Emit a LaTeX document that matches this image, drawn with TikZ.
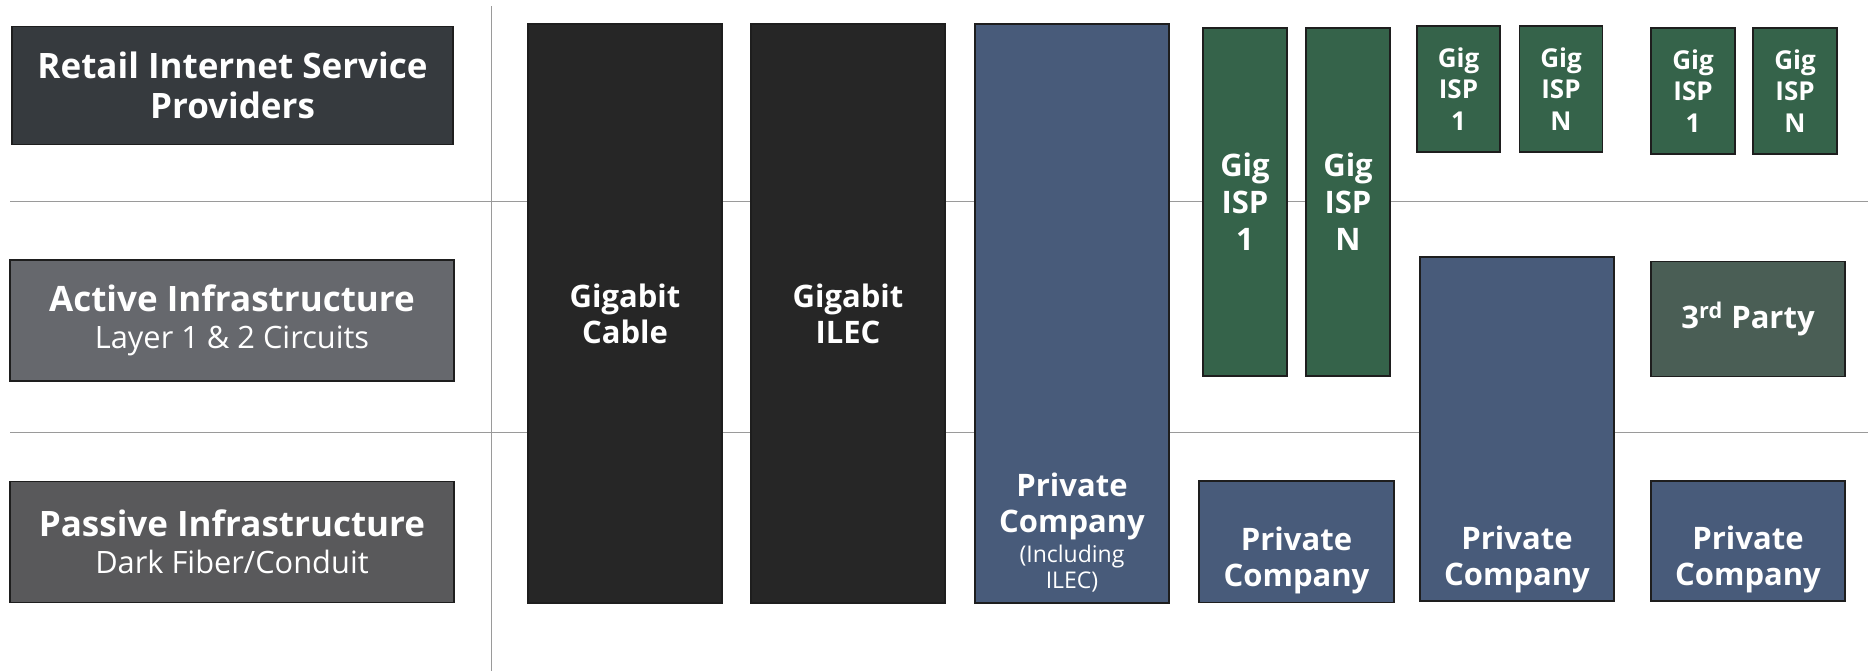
\documentclass[tikz,border=0pt]{standalone}
\usepackage{fontspec}
\setmainfont{Open Sans}
\usepackage{tikz}
\usetikzlibrary{positioning}
\definecolor{retailgray}{HTML}{363A3E}
\definecolor{activegray}{HTML}{66686D}
\definecolor{passivegray}{HTML}{59595B}
\definecolor{gigablack}{HTML}{262626}
\definecolor{privblue}{HTML}{485B7A}
\definecolor{ispgreen}{HTML}{35634A}
\definecolor{thirdgreen}{HTML}{4A5E55}
\definecolor{boxline}{HTML}{1E1E1E}
\definecolor{gridgray}{HTML}{9A9A9A}

\begin{document}
\begin{tikzpicture}[x=.5pt,y=-.5pt,
    box/.style={draw=boxline,line width=.8pt,inner sep=0pt,text=white,align=center},
    head/.style={box,minimum width=222pt,minimum height=60.5pt,font=\fontsize{17.5}{18.7}\selectfont\bfseries},
    col/.style={box,minimum width=97pt,minimum height=289.5pt,font=\fontsize{15.5}{18}\selectfont\bfseries},
    isp/.style={box,fill=ispgreen,minimum width=42pt,font=\fontsize{15.5}{18.5}\selectfont\bfseries},
    ispsmall/.style={isp,minimum height=63pt,font=\fontsize{13}{15.75}\selectfont\bfseries},
    pc/.style={box,fill=privblue},
    pctext/.style={inner sep=0pt,text=white,align=center,font=\fontsize{15.5}{18}\selectfont\bfseries},
    rule/.style={draw=gridgray,line width=.5pt}]
    \useasboundingbox (0,0) rectangle (1868,671);
    \foreach \y in {201,432}
        \draw[rule] (10,\y) -- (1868,\y);
    \draw[rule] (491,6) -- (491,671);
    \node[head,fill=retailgray,minimum width=220.5pt,minimum height=59pt,font=\fontsize{17.5}{20}\selectfont\bfseries] (retail) at (232.5,85.5) {Retail Internet Service\\Providers};
    \node[head,fill=activegray] (active) at (232,320.5) {Active Infrastructure\\{\mdseries\fontsize{15.4}{18.7}\selectfont Layer 1 \& 2 Circuits}};
    \node[head,fill=passivegray] (passive) at (232,542) {Passive Infrastructure\\{\mdseries\fontsize{15.4}{18.7}\selectfont Dark Fiber/Conduit}};
    \node[col,fill=gigablack] (cable) at (625,313.5) {Gigabit\\Cable};
    \node[col,fill=gigablack] (ilec) at (848,313.5) {Gigabit\\ILEC};
    \node[col,fill=privblue] (pcilec) at (1072,313.5) {};
    \node[pctext,above=5.5pt of pcilec.south] (pcilectxt) {Private\\Company\\[-2.8pt]{\mdseries\fontsize{11.5}{13}\selectfont(Including}\\[-5pt]{\mdseries\fontsize{11.5}{13}\selectfont ILEC)}};
    \node[isp,minimum height=174.25pt] (ispA1) at (1245,202) {Gig\\ISP\\1};
    \node[isp,minimum height=174.25pt] (ispAN) at (1348,202) {Gig\\ISP\\N};
    \node[ispsmall,minimum width=41.5pt] (ispB1) at (1458.5,89) {Gig\\ISP\\1};
    \node[ispsmall,minimum width=41.5pt] (ispBN) at (1561,89) {Gig\\ISP\\N};
    \node[ispsmall] (ispC1) at (1693,91) {Gig\\ISP\\1};
    \node[ispsmall] (ispCN) at (1795,91) {Gig\\ISP\\N};
    \node[box,fill=thirdgreen,minimum width=97pt,minimum height=57.5pt,font=\fontsize{15.5}{18}\selectfont\bfseries] (third) at (1748,319) {3\textsuperscript{rd} Party};
    \node[pc,minimum width=97.5pt,minimum height=60.75pt] (pcleft) at (1296.5,541.75) {};
    \node[pc,minimum width=96.75pt,minimum height=172pt] (pcmid) at (1517,429) {};
    \node[pc,minimum width=97pt,minimum height=60pt] (pcright) at (1748,541) {};
    \node[pctext,above=4.5pt of pcleft.south] (pclefttxt) {Private\\Company};
    \node[pctext,above=4.3pt of pcmid.south] (pcmidtxt) {Private\\Company};
    \node[pctext,above=4.3pt of pcright.south] (pcrighttxt) {Private\\Company};
\end{tikzpicture}
\end{document}
